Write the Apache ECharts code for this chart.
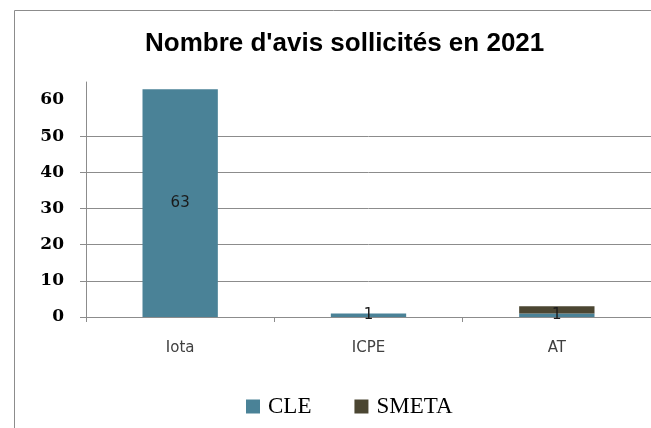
<!DOCTYPE html>
<html>
<head>
<meta charset="utf-8">
<script src="https://cdn.jsdelivr.net/npm/echarts@6/dist/echarts.min.js"></script>
<style>
  html, body { margin: 0; padding: 0; background: #fff; }
  #chart { width: 651px; height: 428px; }
</style>
</head>
<body>
<div id="chart"></div>
<script>
// données du graphique
var categories = ["Iota", "ICPE", "AT"];
var cleValues = [63, 1, 1];
var smetaValues = [0, 0, 2];
var yLabelValues = [0, 10, 20, 30, 40, 50, 60];
var yTickValues = [0, 10, 20, 30, 40, 50];

var chart = echarts.init(document.getElementById("chart"));

var option = {
  animation: false,
  title: {
    text: "Nombre d'avis sollicités en 2021",
    left: 140,
    top: 26,
    textStyle: {
      fontFamily: "Liberation Sans",
      fontSize: 26,
      fontWeight: "bold",
      color: "#000"
    }
  },
  graphic: [
    {
      type: "rect",
      shape: { x: 14.5, y: 10.5, width: 700, height: 500 },
      style: { fill: "none", stroke: "#8c8c8c", lineWidth: 1 },
      silent: true
    }
  ],
  legend: {
    left: 241,
    top: 390,
    itemWidth: 14,
    itemHeight: 14,
    itemGap: 43,
    icon: "rect",
    textStyle: {
      fontFamily: "Liberation Serif",
      fontSize: 23,
      color: "#000",
      padding: [0, 0, 0, 3]
    },
    data: ["CLE", "SMETA"]
  },
  grid: {
    left: 86,
    right: 0,
    top: 82,
    bottom: 111
  },
  xAxis: {
    type: "category",
    data: categories,
    axisLine: { lineStyle: { color: "#8c8c8c", width: 1 } },
    axisTick: { show: true, length: 5, lineStyle: { color: "#8c8c8c" } },
    axisLabel: {
      margin: 24,
      fontFamily: "DejaVu Sans",
      fontSize: 15,
      color: "#404040"
    }
  },
  yAxis: {
    type: "value",
    min: 0,
    max: 65,
    interval: 5,
    axisLine: { show: true, lineStyle: { color: "#8c8c8c", width: 1 } },
    axisTick: {
      show: true,
      length: 6,
      customValues: yTickValues,
      lineStyle: { color: "#8c8c8c" }
    },
    axisLabel: {
      margin: 22,
      customValues: yLabelValues,
      fontFamily: "DejaVu Serif",
      fontWeight: "bold",
      fontSize: 17,
      color: "#000"
    },
    splitLine: { show: true, lineStyle: { color: "#8c8c8c", width: 1 } }
  },
  series: [
    {
      name: "CLE",
      type: "bar",
      stack: "total",
      barWidth: "40%",
      data: cleValues,
      itemStyle: { color: "#4a8297" },
      label: {
        show: true,
        position: "inside",
        fontFamily: "DejaVu Sans",
        fontSize: 15,
        color: "#1a1a1a"
      }
    },
    {
      name: "SMETA",
      type: "bar",
      stack: "total",
      barWidth: "40%",
      data: smetaValues,
      itemStyle: { color: "#4b4632" }
    }
  ]
};

option && chart.setOption(option);
</script>
</body>
</html>
